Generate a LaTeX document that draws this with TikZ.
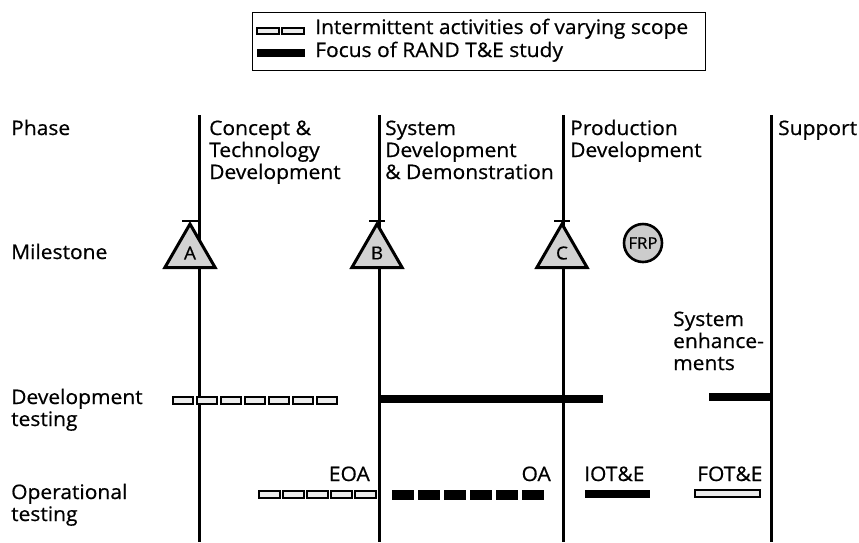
\documentclass[tikz,border=0pt]{standalone}
\usepackage{fontspec}
\setmainfont{Open Sans}[FakeStretch=1.05, FakeBold=0.6]
\usetikzlibrary{shapes.geometric}
\begin{document}
\begin{tikzpicture}[x=1pt,y=-1pt,
  lbl/.style={anchor=base west, inner sep=0pt, font=\fontsize{20}{22}\selectfont, align=left},
  lblr/.style={anchor=base east, inner sep=0pt, font=\fontsize{20}{22}\selectfont},
  phaseline/.style={line width=3pt},
  interm/.style={draw, line width=1.5pt, fill=gray!15},
  tick/.style={line width=1.4pt},
  ms/.style={regular polygon, regular polygon sides=3, minimum size=58pt, inner sep=0pt,
    draw, line width=3pt, fill=gray!35, font=\fontsize{18}{18}\selectfont},
  frp/.style={circle, minimum size=38pt, inner sep=0pt, draw, line width=2.6pt, fill=gray!40,
    font=\fontsize{16}{16}\selectfont}]
\useasboundingbox (0,0) rectangle (859,542);
% legend
\node[draw, line width=1.4pt, minimum width=453pt, minimum height=58pt, anchor=north west, inner sep=0pt] (legend) at (252,12) {};
\foreach \x in {257,282}{\draw[line width=1.3pt, fill=gray!15] (\x,28) rectangle ++(22,6);}
\fill (257,49) rectangle (305,57);
\node[lbl] (lg1) at (315,34) {Intermittent activities of varying scope};
\node[lbl] (lg2) at (315,57) {Focus of RAND T\&E study};
% phase lines
\foreach \n/\x in {1/199,2/379,3/563,4/771}{
  \coordinate (t\n) at (\x,115);
  \coordinate (b\n) at (\x,542);
  \draw[phaseline] (t\n) -- (b\n);
}
% row labels
\node[lbl] (phase) at (11,135) {Phase};
\node[lbl] (mile) at (11,259) {Milestone};
\node[lbl] (devt) at (11,426) {Development\\testing};
\node[lbl] (opt) at (11,521) {Operational\\testing};
% phase names
\node[lbl] (p1) at (209,179) {Concept \&\\Technology\\Development};
\node[lbl] (p2) at (385,179) {System\\Development\\\& Demonstration};
\node[lbl] (p3) at (570,157) {Production\\Development};
\node[lbl] (p4) at (778,135) {Support};
% milestones
\node[ms] (A) at (190,253) {A};
\node[ms] (B) at (377,253) {B};
\node[ms] (C) at (562,253) {C};
\foreach \m in {A,B,C}{\draw[tick] ([xshift=-8pt]\m.corner 1) -- ([xshift=8pt]\m.corner 1);}
\node[frp] (FRP) at (643,243) {FRP};
% development testing
\foreach \x in {173,197,221,245,269,293,317}{\draw[interm] (\x,397) rectangle ++(20,7);}
\fill (379,395) rectangle (603,403);
\fill (709,393) rectangle (771,401);
\node[lbl] (enh) at (673,370) {System\\enhance-\\ments};
% operational testing
\node[lblr] (eoa) at (370,481) {EOA};
\foreach \x in {259,283,307,331,355}{\draw[interm] (\x,491) rectangle ++(21,7);}
\foreach \x in {392,418,444,470,496,522}{\fill (\x,490) rectangle ++(22,10);}
\node[lblr] (oa) at (551,481) {OA};
\node[lbl] (iot) at (584,481) {IOT\&E};
\fill (585,490) rectangle (650,498);
\node[lbl] (fot) at (697,481) {FOT\&E};
\draw[interm] (695,490) rectangle (760,497);
\end{tikzpicture}
\end{document}
